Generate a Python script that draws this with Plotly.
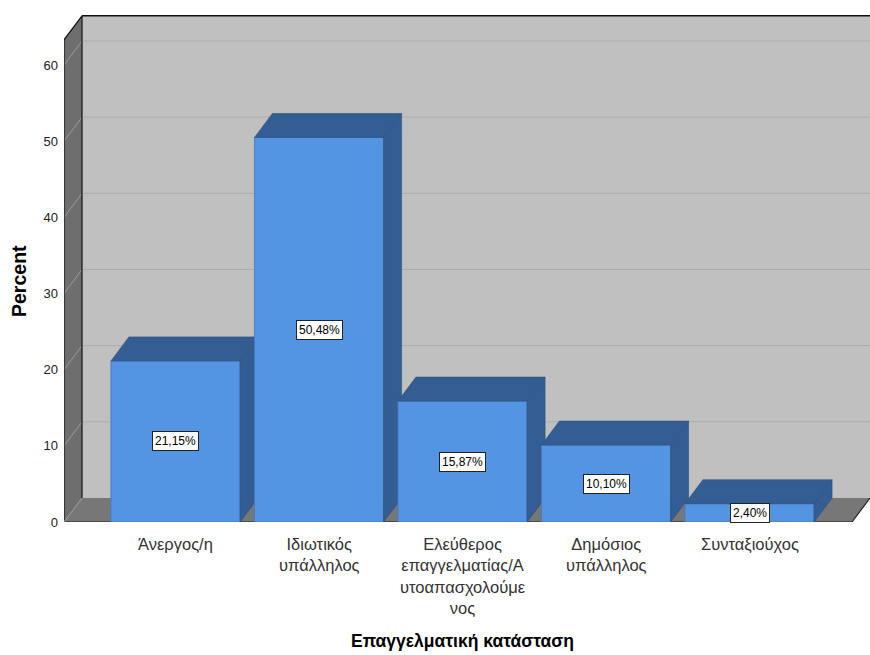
import plotly.graph_objects as go

categories = ["Άνεργος/η", "Ιδιωτικός<br>υπάλληλος",
              "Ελεύθερος<br>επαγγελματίας/Α<br>υτοαπασχολούμε<br>νος",
              "Δημόσιος<br>υπάλληλος", "Συνταξιούχος"]
percent = [21.15, 50.48, 15.87, 10.10, 2.40]
value_labels = ["21,15%", "50,48%", "15,87%", "10,10%", "2,40%"]
y_ticks = [0, 10, 20, 30, 40, 50, 60]
x_title = "Επαγγελματική κατάσταση"
y_title = "Percent"

FONT = "Liberation Sans, Arial"

# layout geometry (pixels)
W, H = 870, 655
ML, MB, MT, MR = 64, 133, 6, 0
PX_CAT = 143.5          # pixels per category
PX_VAL = 7.617          # pixels per percent unit
FIRST_CENTER_PX = 175.5 - ML
x0 = -FIRST_CENTER_PX / PX_CAT
x1 = x0 + (W - ML - MR) / PX_CAT
y1 = (H - MB - MT) / PX_VAL
dx = 18 / PX_CAT
dy = 24 / PX_VAL
ytop = 63.3
xfr = x1 - dx
bw = 0.9

FRONT = "#5394e3"
DARK = "#345e93"
EDGE = "#2c4f7c"

fig = go.Figure()


def poly(xs, ys, fill, lc=None, lw=0.0):
    fig.add_trace(go.Scatter(x=xs + [xs[0]], y=ys + [ys[0]], fill="toself",
                             fillcolor=fill, mode="lines",
                             line=dict(color=lc or fill, width=lw),
                             hoverinfo="skip", showlegend=False))


def seg(xs, ys, color, lw=1.0):
    fig.add_trace(go.Scatter(x=xs, y=ys, mode="lines",
                             line=dict(color=color, width=lw),
                             hoverinfo="skip", showlegend=False))


# back wall
poly([x0 + dx, x1 + 1, x1 + 1, x0 + dx], [dy, dy, ytop + dy, ytop + dy], "#c0c0c0")
# side wall
poly([x0, x0 + dx, x0 + dx, x0], [0, dy, ytop + dy, ytop], "#6e6e6e")
# floor
poly([x0, xfr, xfr + dx, x0 + dx], [0, 0, dy, dy], "#777777")

# gridlines
for v in y_ticks[1:]:
    seg([x0 + dx, x1 + 1], [v + dy, v + dy], "#acacac", 1)
    seg([x0, x0 + dx], [v, v + dy], "#9a9a9a", 1)

# frame edges
seg([x0 + dx, x0 + dx], [dy, ytop + dy], "#111111", 1.2)
seg([x0 + dx, x1 + 1], [ytop + dy, ytop + dy], "#111111", 1.5)
seg([x0, x0, x0 + dx], [0, ytop, ytop + dy], "#111111", 1.2)
seg([x0, xfr, xfr + dx], [0, 0, dy], "#222222", 1.2)
seg([x0, x0 + dx], [0, dy], "#9a9a9a", 1)

# bars
for i, v in enumerate(percent):
    l, r = i - bw / 2, i + bw / 2
    poly([l, r, r, l], [0, 0, v, v], FRONT, "#4677b5", 0.8)
    poly([l, r, r + dx, l + dx], [v, v, v + dy, v + dy], DARK, EDGE, 0.6)
    poly([r, r + dx, r + dx, r], [0, dy, v + dy, v], DARK, EDGE, 0.6)

for i, (v, t) in enumerate(zip(percent, value_labels)):
    fig.add_annotation(x=i, y=v / 2, xref="x", yref="y", text=t, showarrow=False,
                       bgcolor="white", bordercolor="#222222", borderwidth=1,
                       borderpad=2, font=dict(size=12, color="black", family=FONT))

# category labels
for i, cat in enumerate(categories):
    fig.add_annotation(x=i, y=0, xref="x", yref="paper", text=cat,
                       showarrow=False, xanchor="center", yanchor="top",
                       yshift=-11, align="center",
                       font=dict(size=16.5, color="#333333", family=FONT))

plot_w = W - ML - MR
plot_h = H - MB - MT
fig.add_annotation(xref="paper", yref="paper", x=(462 - ML) / plot_w,
                   y=(H - MB - 641) / plot_h, text="<b>" + x_title + "</b>",
                   showarrow=False, xanchor="center", yanchor="middle",
                   font=dict(size=17.5, color="black", family=FONT))
fig.add_annotation(xref="paper", yref="paper", x=(19 - ML) / plot_w,
                   y=(H - MB - 281) / plot_h, text="<b>" + y_title + "</b>",
                   textangle=-90, showarrow=False, xanchor="center", yanchor="middle",
                   font=dict(size=19.5, color="black", family=FONT))

fig.update_layout(
    width=W, height=H, margin=dict(l=ML, r=MR, t=MT, b=MB),
    paper_bgcolor="white", plot_bgcolor="white",
    font=dict(family=FONT, color="#222222"),
    xaxis=dict(range=[x0, x1], showticklabels=False, showgrid=False,
               zeroline=False, showline=False, ticks="", fixedrange=True),
    yaxis=dict(range=[0, y1], tickvals=y_ticks, showgrid=False, zeroline=False,
               showline=False, ticks="", tickfont=dict(size=13, color="#222222", family=FONT),
               ticklabelstandoff=5, fixedrange=True),
)
fig.write_html("out.html")
